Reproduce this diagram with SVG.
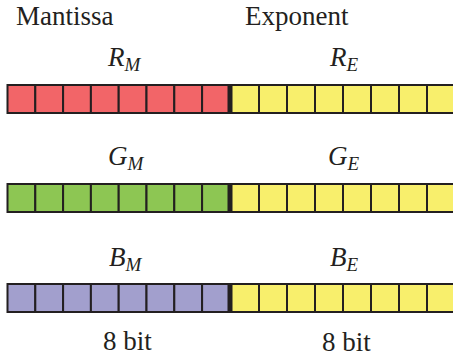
<svg xmlns="http://www.w3.org/2000/svg" width="453" height="358" viewBox="0 0 453 358">
<defs>
<style>
.lbl{font-family:'Liberation Serif',Tinos,'Times New Roman',Times,'DejaVu Serif',serif;font-size:27px;fill:#231f20}
.var{font-family:'Liberation Serif',Tinos,'Times New Roman',Times,'DejaVu Serif',serif;font-style:italic;font-size:27px;fill:#231f20}
.sub{font-size:19px}
.c{stroke:#231f20;stroke-width:2}
.r{fill:#f26568}
.g{fill:#8dc653}
.b{fill:#a29fcd}
.y{fill:#f8ef6c}
.bar{fill:#231f20}
</style>
<g id="cellsM">
<rect class="c" x="0" y="0" width="27.8" height="28"/>
</g>
<g id="cellsE">
<rect class="c" x="0" y="0" width="28" height="28"/>
</g>
</defs>
<rect width="453" height="358" fill="#ffffff"/>
<text class="lbl" x="16" y="25">Mantissa</text>
<text class="lbl" x="245" y="25">Exponent</text>

<g id="row-R">
<text class="var" x="108" y="66">R<tspan class="sub" dy="5">M</tspan></text>
<text class="var" x="330" y="66">R<tspan class="sub" dy="5">E</tspan></text>
<g class="r">
<use href="#cellsM" x="7.5" y="85"/><use href="#cellsM" x="35.3" y="85"/><use href="#cellsM" x="63.1" y="85"/><use href="#cellsM" x="90.9" y="85"/><use href="#cellsM" x="118.7" y="85"/><use href="#cellsM" x="146.5" y="85"/><use href="#cellsM" x="174.3" y="85"/><use href="#cellsM" x="202.1" y="85"/>
</g>
<g class="y">
<use href="#cellsE" x="231" y="85"/><use href="#cellsE" x="259" y="85"/><use href="#cellsE" x="287" y="85"/><use href="#cellsE" x="315" y="85"/><use href="#cellsE" x="343" y="85"/><use href="#cellsE" x="371" y="85"/><use href="#cellsE" x="399" y="85"/><use href="#cellsE" x="427" y="85"/>
</g>
<rect class="bar" x="227.5" y="84" width="5" height="30"/>
</g>

<g id="row-G">
<text class="var" x="108" y="165">G<tspan class="sub" dy="5">M</tspan></text>
<text class="var" x="328" y="165">G<tspan class="sub" dy="5">E</tspan></text>
<g class="g">
<use href="#cellsM" x="7.5" y="184"/><use href="#cellsM" x="35.3" y="184"/><use href="#cellsM" x="63.1" y="184"/><use href="#cellsM" x="90.9" y="184"/><use href="#cellsM" x="118.7" y="184"/><use href="#cellsM" x="146.5" y="184"/><use href="#cellsM" x="174.3" y="184"/><use href="#cellsM" x="202.1" y="184"/>
</g>
<g class="y">
<use href="#cellsE" x="231" y="184"/><use href="#cellsE" x="259" y="184"/><use href="#cellsE" x="287" y="184"/><use href="#cellsE" x="315" y="184"/><use href="#cellsE" x="343" y="184"/><use href="#cellsE" x="371" y="184"/><use href="#cellsE" x="399" y="184"/><use href="#cellsE" x="427" y="184"/>
</g>
<rect class="bar" x="227.5" y="183" width="5" height="30"/>
</g>

<g id="row-B">
<text class="var" x="109" y="266">B<tspan class="sub" dy="5">M</tspan></text>
<text class="var" x="330" y="266">B<tspan class="sub" dy="5">E</tspan></text>
<g class="b">
<use href="#cellsM" x="7.5" y="284"/><use href="#cellsM" x="35.3" y="284"/><use href="#cellsM" x="63.1" y="284"/><use href="#cellsM" x="90.9" y="284"/><use href="#cellsM" x="118.7" y="284"/><use href="#cellsM" x="146.5" y="284"/><use href="#cellsM" x="174.3" y="284"/><use href="#cellsM" x="202.1" y="284"/>
</g>
<g class="y">
<use href="#cellsE" x="231" y="284"/><use href="#cellsE" x="259" y="284"/><use href="#cellsE" x="287" y="284"/><use href="#cellsE" x="315" y="284"/><use href="#cellsE" x="343" y="284"/><use href="#cellsE" x="371" y="284"/><use href="#cellsE" x="399" y="284"/><use href="#cellsE" x="427" y="284"/>
</g>
<rect class="bar" x="227.5" y="283" width="5" height="30"/>
</g>

<text class="lbl" x="103" y="350">8 bit</text>
<text class="lbl" x="322" y="351">8 bit</text>
</svg>
